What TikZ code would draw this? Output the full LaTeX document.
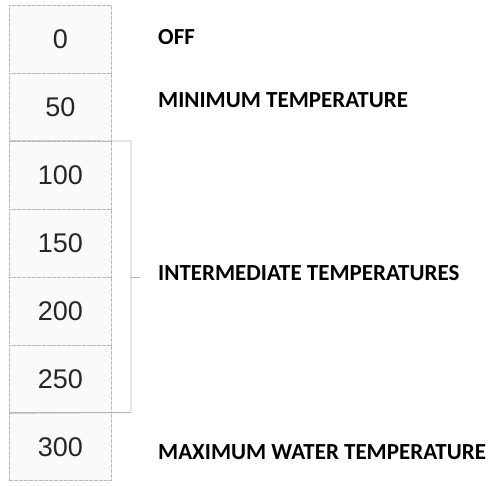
\documentclass[tikz,border=0pt]{standalone}
\usepackage{fontspec}
\setmainfont{Liberation Sans}
\newfontfamily\lblfont{Carlito}
\begin{document}
\begin{tikzpicture}[x=1pt,y=-1pt,
  cell/.style={draw=gray!55, line width=0.8pt, dash pattern=on 4pt off 1pt, fill=gray!4, minimum width=102pt, minimum height=67.9pt, inner sep=0pt, anchor=north west, font=\fontsize{27}{27}\selectfont, text=black!85},
  lbl/.style={anchor=west, inner sep=0pt, font=\lblfont\bfseries\fontsize{23}{23}\selectfont},
  brk/.style={draw=gray!60, line width=0.9pt}]
\useasboundingbox (0,0) rectangle (495,486);
\foreach \v [count=\i from 0] in {0,50,100,150,200,250,300} {
  \node[cell] (c\i) at (9,{5+67.9*\i}) {\v};
}
\coordinate (bt) at (131,141);
\coordinate (bb) at (131,412.5);
\coordinate (bm) at (131,277);
\coordinate (tk) at (140,277);
\draw[brk] (c2.north west) -- (bt) -- (bb) -- (c5.south west);
\draw[brk] (bm) -- (tk);
\node[lbl] (off) at (158,37) {OFF};
\node[lbl] (min) at (158,100) {MINIMUM TEMPERATURE};
\node[lbl] (mid) at (158,273) {INTERMEDIATE TEMPERATURES};
\node[lbl] (max) at (158,452) {MAXIMUM WATER TEMPERATURE};
\end{tikzpicture}
\end{document}
